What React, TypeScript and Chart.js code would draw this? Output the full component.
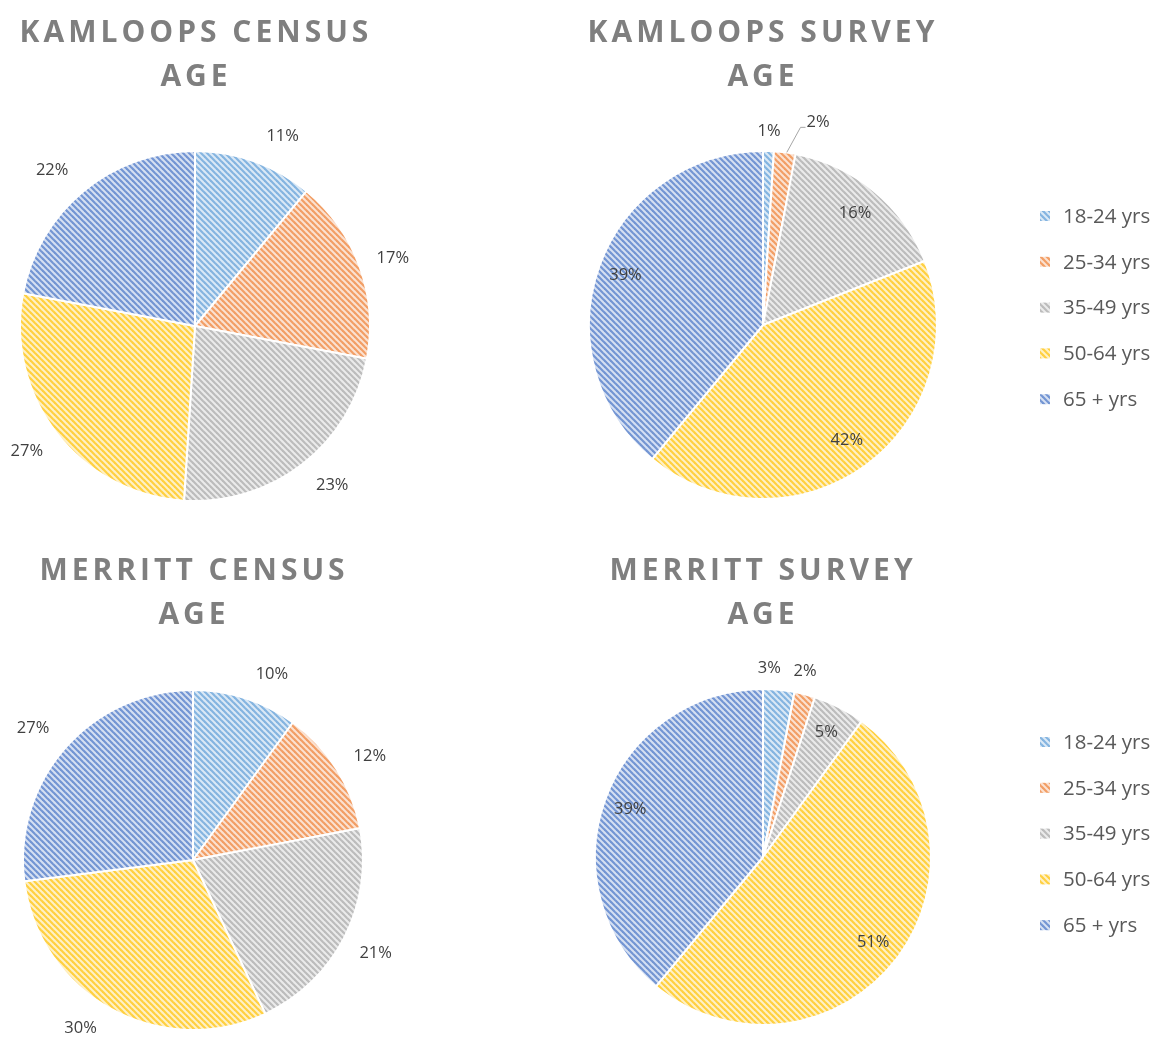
import React, { useEffect, useRef } from "react";
import { Chart, registerables } from "chart.js";

Chart.register(...registerables);

// ---------- data ----------
const ageGroups = ["18-24 yrs", "25-34 yrs", "35-49 yrs", "50-64 yrs", "65 + yrs"];
const kamloopsCensus = [11, 17, 23, 27, 22];
const kamloopsSurvey = [1, 2, 16, 42, 39];
const merrittCensus = [10, 12, 21, 30, 27];
const merrittSurvey = [3, 2, 5, 51, 39];
const kamloopsCensusTitle = ["KAMLOOPS CENSUS", "AGE"];
const kamloopsSurveyTitle = ["KAMLOOPS SURVEY", "AGE"];
const merrittCensusTitle = ["MERRITT CENSUS", "AGE"];
const merrittSurveyTitle = ["MERRITT SURVEY", "AGE"];

// ---------- style ----------
const baseColors = ["#5B9BD5", "#ED7D31", "#A5A5A5", "#FFC000", "#4472C4"];
const TITLE_COLOR = "#7F7F7F";
const LABEL_COLOR = "#404040";
const LEGEND_COLOR = "#595959";

function mix(hex: string, t: number): string {
  const n = parseInt(hex.slice(1), 16);
  const r = (n >> 16) & 255, g = (n >> 8) & 255, b = n & 255;
  const m = (c: number) => Math.round(c + (255 - c) * t);
  return `rgb(${m(r)},${m(g)},${m(b)})`;
}

function makePattern(color: string): CanvasPattern | string {
  const size = 6;
  const c = document.createElement("canvas");
  c.width = size;
  c.height = size;
  const g = c.getContext("2d");
  if (!g) return color;
  g.fillStyle = mix(color, 0.78);
  g.fillRect(0, 0, size, size);
  g.strokeStyle = mix(color, 0.25);
  g.lineWidth = 2.2;
  for (const off of [-size, 0, size]) {
    g.beginPath();
    g.moveTo(off - 1, -1);
    g.lineTo(off + size + 1, size + 1);
    g.stroke();
  }
  return g.createPattern(c, "repeat") || color;
}

type Placement = { inside: boolean; dist: number; turn?: number; leader?: boolean };

interface PieSpec {
  title: string[];
  values: number[];
  left: number;
  top: number;
  width: number;
  height: number;
  cx: number;
  cy: number;
  r: number;
  titleX: number;
  titleYs: number[];
  placements: Placement[];
  legend?: { x: number; y: number; step: number };
}

const outside = (d: number, turn = 0): Placement => ({ inside: false, dist: d, turn });
const inside = (f: number): Placement => ({ inside: true, dist: f });

const specs: PieSpec[] = [
  {
    title: kamloopsCensusTitle, values: kamloopsCensus,
    left: 0, top: 0, width: 580, height: 535, cx: 195, cy: 326, r: 175,
    titleX: 194, titleYs: [33, 77],
    placements: [outside(34, 5), outside(34, 1), outside(35, -3), outside(35, 1), outside(36, -3)],
  },
  {
    title: kamloopsSurveyTitle, values: kamloopsSurvey,
    left: 580, top: 0, width: 579, height: 535, cx: 183, cy: 325, r: 174,
    titleX: 181, titleYs: [33, 77],
    placements: [outside(20), { inside: false, dist: 36, turn: 8, leader: true }, inside(0.83), inside(0.82), inside(0.84)],
    legend: { x: 465, y: 216, step: 45.8 },
  },
  {
    title: merrittCensusTitle, values: merrittCensus,
    left: 0, top: 535, width: 580, height: 505, cx: 193, cy: 325, r: 170,
    titleX: 192, titleYs: [36, 80],
    placements: [outside(32, 5), outside(35, 2), outside(35, 0), outside(32, 5), outside(37, -2)],
  },
  {
    title: merrittSurveyTitle, values: merrittSurvey,
    left: 580, top: 535, width: 579, height: 505, cx: 183, cy: 322, r: 168,
    titleX: 181, titleYs: [36, 80],
    placements: [outside(21, -3.5), outside(22, -1.6), inside(0.83), inside(0.83), inside(0.84)],
    legend: { x: 465, y: 207, step: 45.8 },
  },
];

function drawSpaced(ctx: CanvasRenderingContext2D, text: string, cx: number, y: number, spacing: number) {
  const chars = Array.from(text);
  const widths = chars.map((ch) => ctx.measureText(ch).width);
  const total = widths.reduce((a, b) => a + b, 0) + spacing * (chars.length - 1);
  let x = cx - total / 2;
  ctx.textAlign = "left";
  chars.forEach((ch, i) => {
    ctx.fillText(ch, x, y);
    x += widths[i] + spacing;
  });
}

const decorPlugin = {
  id: "decor",
  afterDatasetsDraw(chart: any, _args: any, opts: any) {
    const ctx: CanvasRenderingContext2D = chart.ctx;
    const spec: PieSpec = opts.spec;
    const patterns = opts.patterns;
    ctx.save();
    // title
    ctx.fillStyle = TITLE_COLOR;
    ctx.font = "bold 30px 'Open Sans'";
    ctx.textBaseline = "middle";
    spec.title.forEach((line, i) => drawSpaced(ctx, line, spec.titleX, spec.titleYs[i], 4));

    // slice labels
    const meta = chart.getDatasetMeta(0);
    const data = chart.data.datasets[0].data as number[];
    ctx.font = "16.5px 'Open Sans'";
    ctx.textAlign = "center";
    ctx.textBaseline = "middle";
    meta.data.forEach((arc: any, i: number) => {
      const p = arc.getProps(["x", "y", "startAngle", "endAngle", "outerRadius"], true);
      const pl = spec.placements[i];
      const baseMid = (p.startAngle + p.endAngle) / 2;
      const mid = baseMid + ((pl.turn || 0) * Math.PI) / 180;
      const d = pl.inside ? p.outerRadius * pl.dist : p.outerRadius + pl.dist;
      const lx = p.x + Math.cos(mid) * d;
      const ly = p.y + Math.sin(mid) * d;
      const text = `${data[i]}%`;
      ctx.fillStyle = LABEL_COLOR;
      ctx.fillText(text, lx, ly);
      if (pl.leader) {
        const w = ctx.measureText(text).width;
        const ex = p.x + Math.cos(baseMid) * p.outerRadius;
        const ey = p.y + Math.sin(baseMid) * p.outerRadius;
        ctx.strokeStyle = "#A6A6A6";
        ctx.lineWidth = 1;
        ctx.beginPath();
        ctx.moveTo(ex + 2, ey);
        ctx.lineTo(lx - w / 2 - 6, ly + 5);
        ctx.lineTo(lx - w / 2 - 1, ly + 5);
        ctx.stroke();
      }
    });

    // legend
    if (spec.legend) {
      const lg = spec.legend;
      ctx.font = "20.5px 'Open Sans'";
      ctx.textAlign = "left";
      ctx.textBaseline = "middle";
      ageGroups.forEach((name, i) => {
        const y = lg.y + i * lg.step;
        ctx.fillStyle = patterns[i];
        ctx.fillRect(lg.x - 5, y - 5, 10, 10);
        ctx.fillStyle = LEGEND_COLOR;
        ctx.fillText(name, lg.x + 18, y + 1);
      });
    }
    ctx.restore();
  },
};

function PieChart({ spec }: { spec: PieSpec }) {
  const ref = useRef<HTMLCanvasElement | null>(null);
  useEffect(() => {
    if (!ref.current) return;
    const patterns = baseColors.map((c) => makePattern(c));
    const chart = new Chart(ref.current, {
      type: "pie",
      data: {
        labels: ageGroups,
        datasets: [
          {
            data: spec.values,
            backgroundColor: patterns as any,
            borderColor: "#FFFFFF",
            borderWidth: 2,
          },
        ],
      },
      options: {
        animation: false,
        responsive: false,
        events: [],
        radius: spec.r,
        layout: {
          padding: {
            left: spec.cx - spec.r,
            top: spec.cy - spec.r,
            right: spec.width - spec.cx - spec.r,
            bottom: spec.height - spec.cy - spec.r,
          },
        },
        plugins: {
          legend: { display: false },
          title: { display: false },
          tooltip: { enabled: false },
          decor: { spec, patterns },
        } as any,
      },
      plugins: [decorPlugin as any],
    });
    return () => chart.destroy();
  }, [spec]);
  return (
    <canvas
      ref={ref}
      width={spec.width}
      height={spec.height}
      style={{ position: "absolute", left: spec.left, top: spec.top, width: spec.width, height: spec.height }}
    />
  );
}

export default function App() {
  return (
    <div style={{ position: "absolute", left: 0, top: 0, width: 1159, height: 1040, background: "#FFFFFF" }}>
      {specs.map((s, i) => (
        <PieChart key={i} spec={s} />
      ))}
    </div>
  );
}
